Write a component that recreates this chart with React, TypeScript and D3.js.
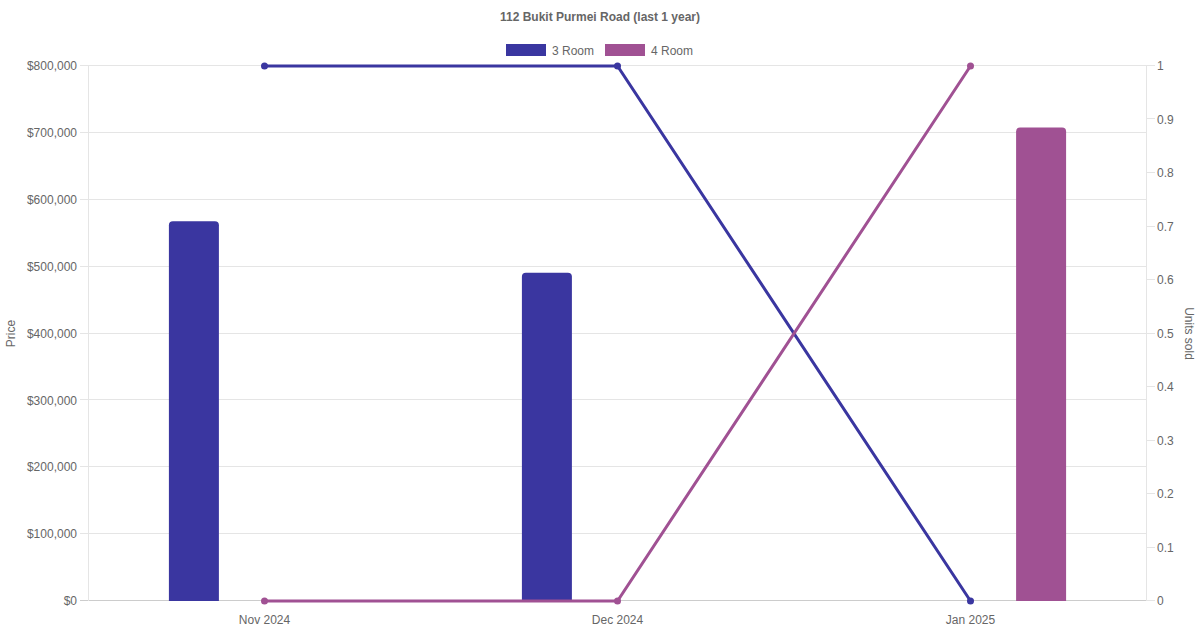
import { useMemo } from 'react';
import * as d3 from 'd3';

const WIDTH = 1200;
const HEIGHT = 630;
const MARGIN = { top: 66, right: 53, bottom: 29, left: 88 };

const months = ['Nov 2024', 'Dec 2024', 'Jan 2025'];
const seriesNames = ['3 Room', '4 Room'];
const colors = ['#3a36a0', '#a05193'];
// median price per month (null = no sale)
const price3Room = [568000, 491000, null];
const price4Room = [null, null, 708000];
// units sold per month
const units3Room = [1, 1, 0];
const units4Room = [0, 0, 1];
const priceTicks = [0, 100000, 200000, 300000, 400000, 500000, 600000, 700000, 800000];
const unitTicks = [0, 0.1, 0.2, 0.3, 0.4, 0.5, 0.6, 0.7, 0.8, 0.9, 1];

const FONT = 'Liberation Sans, Arial, sans-serif';
const TEXT = '#666';
const GRID = '#e5e5e5';

function topRoundedBar(x: number, y: number, w: number, h: number, r: number) {
    const rr = Math.min(r, h, w / 2);
    return `M${x},${y + h}V${y + rr}Q${x},${y} ${x + rr},${y}H${x + w - rr}Q${x + w},${y} ${x + w},${y + rr}V${y + h}Z`;
}

export default function App() {
    const boundsWidth = WIDTH - MARGIN.left - MARGIN.right;
    const boundsHeight = HEIGHT - MARGIN.top - MARGIN.bottom;

    const xScale = useMemo(
        () => d3.scaleBand().domain(months).range([0, boundsWidth]),
        [boundsWidth]
    );
    const xSub = useMemo(
        () =>
            d3
                .scaleBand()
                .domain(seriesNames)
                .range([xScale.bandwidth() * 0.1, xScale.bandwidth() * 0.9]),
        [xScale]
    );
    const yPrice = useMemo(
        () => d3.scaleLinear().domain([0, 800000]).range([boundsHeight, 0]),
        [boundsHeight]
    );
    const yUnits = useMemo(
        () => d3.scaleLinear().domain([0, 1]).range([boundsHeight, 0]),
        [boundsHeight]
    );

    const priceSeries = [price3Room, price4Room];
    const unitSeries = [units3Room, units4Room];
    const barW = 50;
    const crisp = (v: number) => Math.round(v) + 0.5;

    const bars = priceSeries.flatMap((vals, si) =>
        vals.map((v, i) => {
            if (v === null) return null;
            const cx = (xScale(months[i]) || 0) + (xSub(seriesNames[si]) || 0) + xSub.bandwidth() / 2;
            const y = yPrice(v);
            return (
                <path
                    key={`${si}-${i}`}
                    d={topRoundedBar(cx - barW / 2, y, barW, boundsHeight - y, 4)}
                    fill={colors[si]}
                />
            );
        })
    );

    const line = d3
        .line<number>()
        .x((_, i) => (xScale(months[i]) || 0) + xScale.bandwidth() / 2)
        .y((d) => yUnits(d));

    const lines = unitSeries.map((vals, si) => (
        <g key={si}>
            <path d={line(vals) || ''} fill="none" stroke={colors[si]} strokeWidth={3} />
            {vals.map((v, i) => (
                <circle
                    key={i}
                    cx={(xScale(months[i]) || 0) + xScale.bandwidth() / 2}
                    cy={yUnits(v)}
                    r={3.5}
                    fill={colors[si]}
                />
            ))}
        </g>
    ));

    const fmt = (v: number) => '$' + d3.format(',')(v);

    return (
        <svg
            width={WIDTH}
            height={HEIGHT}
            style={{ position: 'absolute', left: 0, top: 0, background: '#fff' }}
            fontFamily={FONT}
        >
            <text x={600} y={21} textAnchor="middle" fontSize={12} fontWeight="bold" fill={TEXT}>
                112 Bukit Purmei Road (last 1 year)
            </text>
            {/* legend */}
            {seriesNames.map((name, i) => (
                <g key={name} transform={`translate(${506 + i * 99},44)`}>
                    <rect width={40} height={12} fill={colors[i]} />
                    <text x={46} y={10.5} fontSize={12} fill={TEXT}>
                        {name}
                    </text>
                </g>
            ))}
            <g transform={`translate(${MARGIN.left},${MARGIN.top})`}>
                {priceTicks.map((t) => (
                    <g key={t}>
                        <line x1={-8} x2={boundsWidth} y1={crisp(yPrice(t)) - 1} y2={crisp(yPrice(t)) - 1} stroke={t === 0 ? '#ccc' : GRID} />
                        <text x={-11} y={yPrice(t)} dy="0.35em" textAnchor="end" fontSize={12} fill={TEXT}>
                            {fmt(t)}
                        </text>
                    </g>
                ))}
                {unitTicks.map((t) => (
                    <g key={t}>
                        <line x1={boundsWidth} x2={boundsWidth + 8} y1={crisp(yUnits(t)) - 1} y2={crisp(yUnits(t)) - 1} stroke={GRID} />
                        <text x={boundsWidth + 10} y={yUnits(t)} dy="0.35em" textAnchor="start" fontSize={12} fill={TEXT}>
                            {t}
                        </text>
                    </g>
                ))}
                <line x1={0.5} x2={0.5} y1={0} y2={boundsHeight} stroke={GRID} />
                <line x1={boundsWidth - 0.5} x2={boundsWidth - 0.5} y1={0} y2={boundsHeight} stroke={GRID} />
                {months.map((m) => {
                    const cx = (xScale(m) || 0) + xScale.bandwidth() / 2;
                    return (
                        <text key={m} x={cx} y={boundsHeight + 23} textAnchor="middle" fontSize={12} fill={TEXT}>
                            {m}
                        </text>
                    );
                })}
                {bars}
                {lines}
            </g>
            <text transform={`translate(15,${MARGIN.top + boundsHeight / 2}) rotate(-90)`} textAnchor="middle" fontSize={12} fill={TEXT}>
                Price
            </text>
            <text transform={`translate(1185,${MARGIN.top + boundsHeight / 2}) rotate(90)`} textAnchor="middle" fontSize={12} fill={TEXT}>
                Units sold
            </text>
        </svg>
    );
}
